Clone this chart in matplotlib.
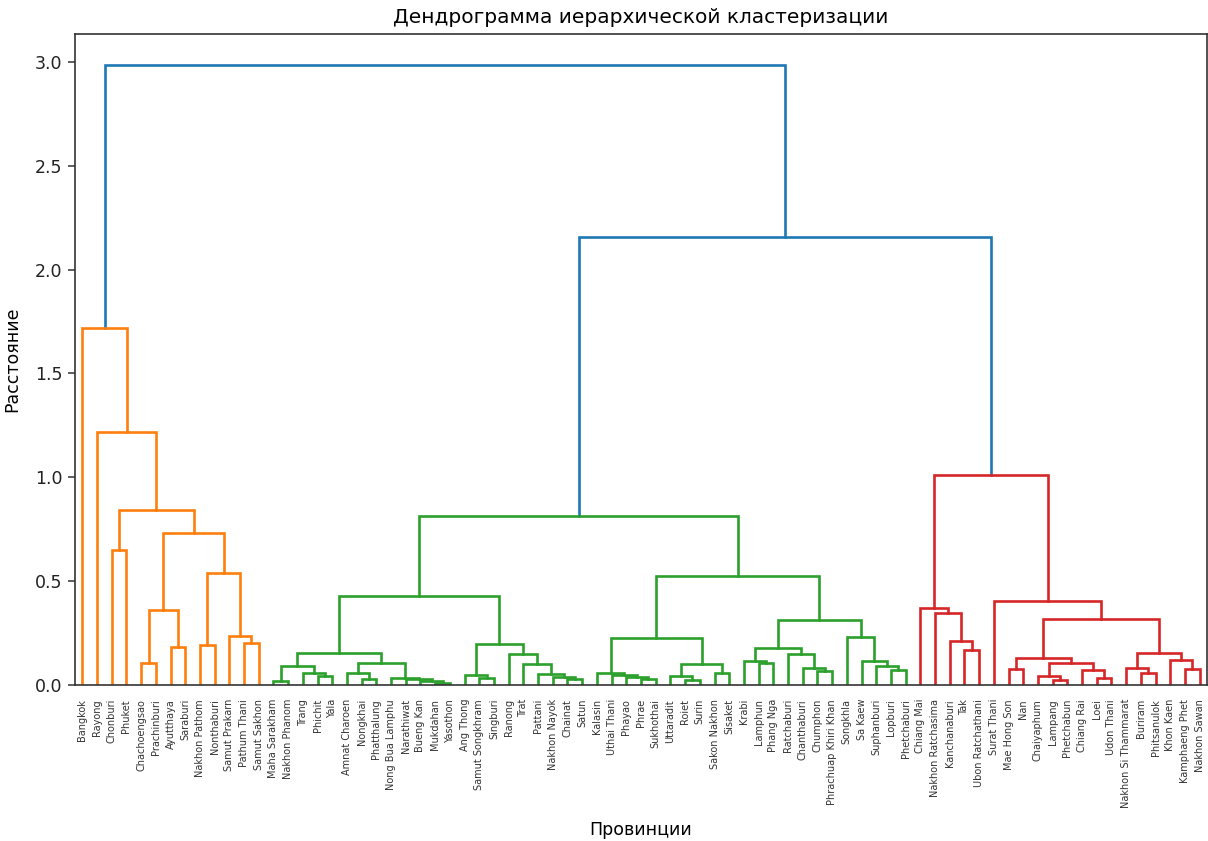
import matplotlib
matplotlib.use("Agg")
import matplotlib.pyplot as plt

# Leaf labels (provinces), in dendrogram order
provinces = [
    "Bangkok", "Rayong", "Chonburi", "Phuket", "Chachoengsao", "Prachinburi",
    "Ayutthaya", "Saraburi", "Nakhon Pathom", "Nonthaburi", "Samut Prakarn",
    "Pathum Thani", "Samut Sakhon", "Maha Sarakham", "Nakhon Phanom", "Trang",
    "Phichit", "Yala", "Amnat Charoen", "Nongkhai", "Phatthalung",
    "Nong Bua Lamphu", "Narathiwat", "Bueng Kan", "Mukdahan", "Yasothon",
    "Ang Thong", "Samut Songkhram", "Singburi", "Ranong", "Trat", "Pattani",
    "Nakhon Nayok", "Chainat", "Satun", "Kalasin", "Uthai Thani", "Phayao",
    "Phrae", "Sukhothai", "Uttaradit", "Roiet", "Surin", "Sakon Nakhon",
    "Sisaket", "Krabi", "Lamphun", "Phang Nga", "Ratchaburi", "Chanthaburi",
    "Chumphon", "Phrachuap Khiri Khan", "Songkhla", "Sa Kaew", "Suphanburi",
    "Lopburi", "Phetchaburi", "Chiang Mai", "Nakhon Ratchasima", "Kanchanaburi",
    "Tak", "Ubon Ratchathani", "Surat Thani", "Mae Hong Son", "Nan",
    "Chaiyaphum", "Lampang", "Phetchabun", "Chiang Rai", "Loei", "Udon Thani",
    "Nakhon Si Thammarat", "Buriram", "Phitsanulok", "Khon Kaen",
    "Kamphaeng Phet", "Nakhon Sawan",
]

# Linkage: row k creates cluster id len(provinces)+k from (left, right) at height
link_left = [11, 10, 8, 79, 4, 6, 81, 83, 2, 85, 1, 0,
             13, 16, 15, 89, 19, 18, 24, 23, 22, 21, 94, 92,
             27, 26, 33, 32, 31, 30, 29, 102, 100,
             38, 37, 36, 35, 41, 40, 43, 115, 113,
             46, 45, 50, 49, 48, 120, 55, 54, 53, 52, 124, 118, 109,
             60, 59, 58, 57, 63, 66, 65, 69, 68, 138, 136, 72, 71, 75, 74,
             144, 142, 62, 135, 131, 88]
link_right = [12, 77, 9, 78, 5, 7, 82, 80, 3, 84, 86, 87,
              14, 17, 90, 91, 20, 93, 25, 95, 96, 97, 98, 99,
              28, 101, 34, 103, 104, 105, 106, 107, 108,
              39, 110, 111, 112, 42, 114, 44, 116, 117,
              47, 119, 51, 121, 122, 123, 56, 125, 126, 127, 128, 129, 130,
              61, 132, 133, 134, 64, 67, 137, 70, 139, 140, 141, 73, 143, 76, 145,
              146, 147, 148, 149, 150, 151]
link_height = [0.203, 0.235, 0.192, 0.54, 0.104, 0.184, 0.36, 0.732, 0.652, 0.843, 1.218, 1.72,
               0.02, 0.043, 0.056, 0.091, 0.027, 0.056, 0.012, 0.02, 0.028, 0.035, 0.104, 0.155,
               0.032, 0.05, 0.027, 0.04, 0.051, 0.099, 0.149, 0.197, 0.428,
               0.027, 0.04, 0.05, 0.059, 0.025, 0.045, 0.059, 0.099, 0.224,
               0.104, 0.117, 0.069, 0.08, 0.149, 0.176, 0.072, 0.091, 0.115, 0.229, 0.313, 0.524, 0.812,
               0.168, 0.212, 0.345, 0.369, 0.075, 0.024, 0.043, 0.032, 0.072, 0.107, 0.128, 0.056, 0.08, 0.075, 0.12,
               0.155, 0.32, 0.405, 1.01, 2.159, 2.985]

title = "Дендрограмма иерархической кластеризации"
xlabel = "Провинции"
ylabel = "Расстояние"

n = len(provinces)
children = {n + k: (link_left[k], link_right[k]) for k in range(len(link_left))}
height = {n + k: link_height[k] for k in range(len(link_left))}
root = n + len(link_left) - 1
threshold = 0.7 * max(link_height)

# leaf order from traversal
order = []
def walk(node):
    if node < n:
        order.append(node)
    else:
        l, r = children[node]
        walk(l)
        walk(r)
walk(root)
xpos = {leaf: 5 + 10 * i for i, leaf in enumerate(order)}

def pos(node):
    if node < n:
        return xpos[node], 0.0
    l, r = children[node]
    xl, _ = pos(l)
    xr, _ = pos(r)
    return (xl + xr) / 2.0, height[node]

palette = ["C1", "C2", "C3", "C4", "C5", "C6", "C7", "C8", "C9"]
color_counter = [0]
links = []

def assign(node, color):
    if node < n:
        return
    h = height[node]
    if color is None and h < threshold:
        color = palette[color_counter[0] % len(palette)]
        color_counter[0] += 1
    c = color if color is not None else "C0"
    l, r = children[node]
    links.append((node, c))
    assign(l, color)
    assign(r, color)

assign(root, None)

fig = plt.figure(figsize=(12.08, 8.41), dpi=100)
ax = fig.add_axes([75 / 1208, 1 - 685 / 841, 1132 / 1208, (685 - 34) / 841])

for node, c in links:
    l, r = children[node]
    xl, yl = pos(l)
    xr, yr = pos(r)
    h = height[node]
    ax.plot([xl, xl, xr, xr], [yl, h, h, yr], color=c, linewidth=1.9,
            solid_joinstyle="miter")

ax.set_xlim(0, 10 * n)
ax.set_ylim(0, max(link_height) * 1.05)
ax.set_xticks([xpos[leaf] for leaf in order])
ax.set_xticklabels([provinces[leaf] for leaf in order], rotation=90, fontsize=7,
                   color="#333333")
ax.tick_params(axis="x", length=0, pad=10)
ax.set_yticks([0.0, 0.5, 1.0, 1.5, 2.0, 2.5, 3.0])
ax.tick_params(axis="y", labelsize=12.5, length=5, width=1.1, pad=4, colors="#333333")
ax.tick_params(axis="y", labelcolor="#222222")
for s in ax.spines.values():
    s.set_color("#333333")
    s.set_linewidth(1.2)

ax.set_title(title, fontsize=14.5, pad=8)
ax.set_xlabel(xlabel, fontsize=12.5, labelpad=9)
ax.set_ylabel(ylabel, fontsize=12.5, labelpad=10)

fig.savefig("out.png", dpi=100)
